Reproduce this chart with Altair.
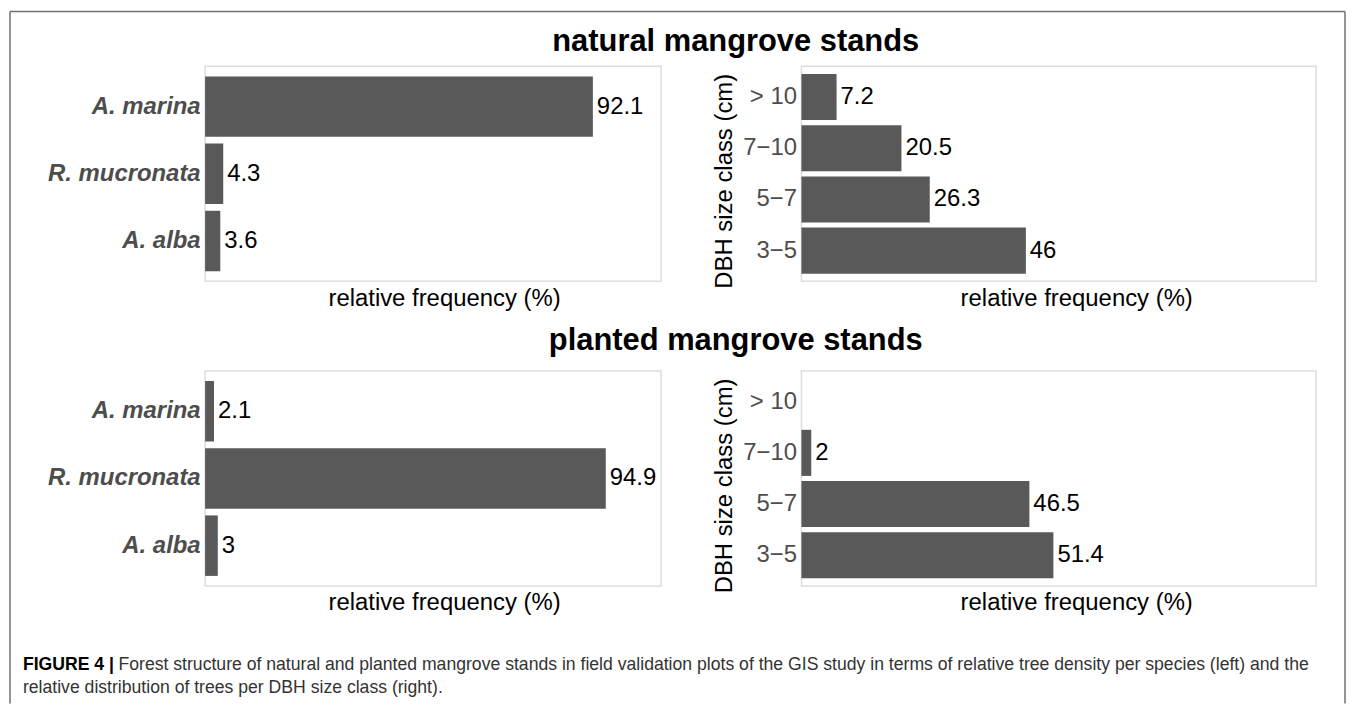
import altair as alt
import pandas as pd

# ---------------- data ----------------
species = ["A. marina", "R. mucronata", "A. alba"]
natural_species = [92.1, 4.3, 3.6]
planted_species = [2.1, 94.9, 3.0]

dbh_classes = ["> 10", "7−10", "5−7", "3−5"]
natural_dbh = [7.2, 20.5, 26.3, 46.0]
planted_dbh = [0.0, 2.0, 46.5, 51.4]

row_titles = ["natural mangrove stands", "planted mangrove stands"]
x_title = "relative frequency (%)"
y_title_dbh = "DBH size class (cm)"
caption_bold = "FIGURE 4 |"
caption_line1 = ("Forest structure of natural and planted mangrove stands in field validation plots "
                 "of the GIS study in terms of relative tree density per species (left) and the")
caption_line2 = "relative distribution of trees per DBH size class (right)."

# ---------------- style ----------------
FONT = "Liberation Sans"
BAR = "#595959"
LABEL_GREY = "#4d4d4d"
W_L, W_R, H = 458, 517, 216
FS = 24
CAP_FS = 17.7


def make_df(cats, vals):
    return pd.DataFrame({"cat": cats, "value": vals, "label": [f"{v:g}" for v in vals]})


one = pd.DataFrame({"k": [0]})


def row_title(text, y):
    return alt.Chart(one).mark_text(
        align="center", baseline="alphabetic", font=FONT, fontSize=31,
        fontWeight="bold", color="black"
    ).encode(x=alt.value(533), y=alt.value(y), text=alt.value(text))


def panel(cats, vals, width, xmax, is_species, title_x):
    df = make_df(cats, vals)
    if is_species:
        y_axis = alt.Axis(title=None, ticks=False, domain=False, labelFont=FONT,
                          labelFontSize=FS, labelFontWeight="bold", labelFontStyle="italic",
                          labelColor=LABEL_GREY, labelPadding=5, labelLimit=300)
    else:
        y_axis = alt.Axis(title=y_title_dbh, ticks=False, domain=False, labelFont=FONT,
                          labelFontSize=FS, labelColor=LABEL_GREY, labelPadding=5,
                          titleFont=FONT, titleFontSize=FS, titleFontWeight="normal",
                          titleColor="black", titlePadding=6, titleY=115)
    x_axis = alt.Axis(title=x_title, labels=False, ticks=False, domain=False, grid=False,
                      titleFont=FONT, titleFontSize=FS, titleFontWeight="normal",
                      titleColor="black", titlePadding=5, titleX=title_x)
    y_enc = alt.Y("cat:N", sort=cats, axis=y_axis,
                  scale=alt.Scale(paddingInner=0.1, paddingOuter=0.15))
    x_scale = alt.Scale(domain=[0, xmax], nice=False, zero=True)
    base = alt.Chart(df)
    bars = base.mark_bar(color=BAR).encode(
        y=y_enc, x=alt.X("value:Q", scale=x_scale, axis=x_axis))
    labels = base.transform_filter("datum.value > 0").mark_text(
        align="left", baseline="middle", dx=4, font=FONT, fontSize=FS, color="black"
    ).encode(y=alt.Y("cat:N", sort=cats), x=alt.X("value:Q"), text="label:N")
    return [bars, labels]


# outer frame (left, top, right) drawn relative to the top-left panel
FL, FT, FR, FB = -196, -55, 1145, 640
frame = [
    alt.Chart(one).mark_rule(color="#707070", strokeWidth=1.5).encode(
        x=alt.value(FL), y=alt.value(FT), y2=alt.value(FB)),
    alt.Chart(one).mark_rule(color="#707070", strokeWidth=1.5).encode(
        x=alt.value(FL), x2=alt.value(FR), y=alt.value(FT)),
    alt.Chart(one).mark_rule(color="#707070", strokeWidth=1.5).encode(
        x=alt.value(FR), y=alt.value(FT), y2=alt.value(FB)),
]

caption = [
    alt.Chart(one).mark_text(align="left", baseline="alphabetic", font=FONT, fontSize=CAP_FS,
                             fontWeight="bold", color="black").encode(
        x=alt.value(-183), y=alt.value(300), text=alt.value(caption_bold)),
    alt.Chart(one).mark_text(align="left", baseline="alphabetic", font=FONT, fontSize=CAP_FS,
                             color="#333333").encode(
        x=alt.value(-87), y=alt.value(300), text=alt.value(caption_line1)),
    alt.Chart(one).mark_text(align="left", baseline="alphabetic", font=FONT, fontSize=CAP_FS,
                             color="#333333").encode(
        x=alt.value(-183), y=alt.value(324), text=alt.value(caption_line2)),
]

tl = alt.layer(*panel(species, natural_species, W_L, 108.3, True, 240),
               row_title(row_titles[0], -15), *frame).properties(width=W_L, height=H)
tr = alt.layer(*panel(dbh_classes, natural_dbh, W_R, 105.5, False, 276)).properties(
    width=W_R, height=H)
bl = alt.layer(*panel(species, planted_species, W_L, 108.0, True, 240),
               row_title(row_titles[1], -21), *caption).properties(width=W_L, height=H)
br = alt.layer(*panel(dbh_classes, planted_dbh, W_R, 105.0, False, 276)).properties(
    width=W_R, height=H)

chart = alt.concat(
    tl, tr, bl, br, columns=2, bounds="flush",
    spacing={"row": 90, "column": 141},
).properties(padding=0, background="white").configure_view(
    stroke="#dddddd", strokeWidth=1.5
)

chart.save("out.html", embed_options={"renderer": "svg", "actions": False})
